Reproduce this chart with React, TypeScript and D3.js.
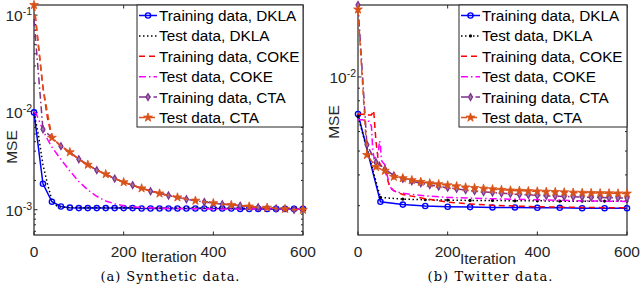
import React, { useEffect, useRef } from "react";
import * as d3 from "d3";

// iteration grids
const iter20 = [0, 20, 40, 60, 80, 100, 120, 140, 160, 180, 200, 220, 240, 260, 280, 300, 320, 340, 360, 380, 400, 420, 440, 460, 480, 500, 520, 540, 560, 580, 600];
const iter50 = [0, 50, 100, 150, 200, 250, 300, 350, 400, 450, 500, 550, 600];

// (a) synthetic data
const synTrainDKLA = [0.01, 0.00185, 0.00121, 0.00108, 0.00105, 0.00104, 0.00104, 0.00104, 0.00104, 0.00104, 0.00104, 0.00104, 0.00103, 0.00103, 0.00103, 0.00103, 0.00103, 0.00103, 0.00103, 0.00103, 0.00103, 0.00103, 0.00103, 0.00102, 0.00102, 0.00102, 0.00102, 0.00102, 0.00102, 0.00102, 0.00102];
const synTestDKLAIter = [0, 10, 20, 30, 40, 50, 60, 100, 200, 300, 400, 500, 600];
const synTestDKLA = [0.01, 0.0058, 0.0029, 0.00185, 0.00125, 0.0011, 0.00106, 0.00105, 0.00105, 0.00104, 0.00104, 0.00103, 0.00103];
const synCOKEIter = [0, 5, 10, 15, 20, 30, 40, 50, 60, 80, 100, 120, 140, 160, 180, 200, 240, 300, 400, 500, 600];
const synTrainCOKE = [0.127, 0.08, 0.048, 0.029, 0.018, 0.0088, 0.0055, 0.005, 0.0045, 0.0039, 0.0033, 0.0029, 0.00255, 0.00232, 0.00209, 0.00192, 0.00166, 0.0014, 0.00117, 0.00106, 0.001];
const synTestCOKE = [0.01, 0.0097, 0.0085, 0.0075, 0.0066, 0.0053, 0.0044, 0.0038, 0.0033, 0.0025, 0.00195, 0.0016, 0.00137, 0.00123, 0.00115, 0.0011, 0.00105, 0.00103, 0.00102, 0.00102, 0.00101];
const synTrainCTA = [0.09, 0.0067, 0.0055, 0.0045, 0.0039, 0.0033, 0.0029, 0.00255, 0.00232, 0.00209, 0.00192, 0.00179, 0.00166, 0.00155, 0.00147, 0.0014, 0.00134, 0.00128, 0.00124, 0.0012, 0.00117, 0.00114, 0.00112, 0.0011, 0.00108, 0.00106, 0.00105, 0.00103, 0.00102, 0.001, 0.001];
const synTestCTA = [0.127, 0.018, 0.0055, 0.0045, 0.0039, 0.0033, 0.0029, 0.00255, 0.00232, 0.00209, 0.00192, 0.00179, 0.00166, 0.00155, 0.00147, 0.0014, 0.00134, 0.00128, 0.00124, 0.0012, 0.00117, 0.00114, 0.00112, 0.0011, 0.00108, 0.00106, 0.00105, 0.00103, 0.00102, 0.001, 0.001];

// (b) twitter data
const twTrainDKLA = [0.00707, 0.00311, 0.00303, 0.00299, 0.00297, 0.00296, 0.00295, 0.00295, 0.00294, 0.00294, 0.00293, 0.00293, 0.00293];
const twTestDKLA = [0.0069, 0.00324, 0.00319, 0.00317, 0.00316, 0.00315, 0.00315, 0.00314, 0.00314, 0.00313, 0.00313, 0.00313, 0.00313];
const twTrainCOKEIter = [0, 10, 20, 30, 35, 40, 45, 50, 55, 60, 70, 80, 90, 100, 120, 150, 200, 250, 300, 350, 400, 500, 600];
const twTrainCOKE = [0.00705, 0.00705, 0.007, 0.007, 0.0073, 0.0055, 0.0046, 0.0044, 0.0043, 0.0042, 0.0036, 0.00345, 0.00338, 0.00333, 0.00328, 0.0032, 0.0031, 0.00305, 0.00301, 0.00299, 0.00297, 0.00295, 0.00294];
const twTestCOKEIter = [0, 10, 20, 25, 30, 33, 36, 40, 45, 48, 50, 52, 55, 60, 65, 70, 75, 80, 90, 100, 120, 150, 200, 300, 400, 500, 600];
const twTestCOKE = [0.0067, 0.0067, 0.0066, 0.0066, 0.0063, 0.005, 0.0047, 0.0047, 0.0049, 0.0055, 0.0053, 0.0046, 0.0045, 0.0044, 0.004, 0.00365, 0.0035, 0.00345, 0.0034, 0.00337, 0.00333, 0.00329, 0.00324, 0.0032, 0.00317, 0.00314, 0.00312];
const twTrainCTA = [0.0196, 0.0053, 0.0045, 0.00422, 0.00398, 0.00386, 0.00377, 0.0037, 0.00364, 0.00359, 0.00355, 0.00351, 0.00347, 0.00344, 0.00341, 0.00339, 0.00337, 0.00335, 0.00333, 0.00332, 0.0033, 0.00329, 0.00328, 0.00327, 0.00326, 0.00325, 0.00324, 0.003235, 0.00323, 0.003225, 0.00322];
const twTestCTA = [0.0188, 0.00482, 0.00431, 0.00416, 0.00393, 0.00388, 0.00381, 0.00375, 0.0037, 0.00367, 0.00363, 0.0036, 0.00356, 0.00354, 0.00352, 0.0035, 0.00348, 0.00346, 0.00345, 0.00344, 0.00343, 0.00342, 0.00341, 0.0034, 0.00339, 0.003385, 0.00338, 0.003375, 0.00337, 0.003365, 0.00336];

const labels = ["Training data, DKLA", "Test data, DKLA", "Training data, COKE", "Test data, COKE", "Training data, CTA", "Test data, CTA"];
const xTicks = [0, 200, 400, 600];

const AX = "#262626";
const FONT = "'Liberation Sans', Arial, sans-serif";
const DASHED = "6,4";
const DOTTED = "1.5,2.5";
const DASHDOT = "7,3,1.5,3";

const makeSeries = (data) => [
  { iter: data[0][0], values: data[0][1], color: "#0000ff", dash: null, marker: "circle", start: 0, step: 1 },
  { iter: data[1][0], values: data[1][1], color: "#000000", dash: DOTTED, marker: data[1][2], start: 0, step: 1 },
  { iter: data[2][0], values: data[2][1], color: "#ff0000", dash: DASHED, marker: null, start: 0, step: 1 },
  { iter: data[3][0], values: data[3][1], color: "#ff00ff", dash: DASHDOT, marker: null, start: 0, step: 1 },
  { iter: data[4][0], values: data[4][1], color: "#7e2f8e", dash: DASHDOT, marker: "diamond", start: data[4][2], step: data[4][3] },
  { iter: data[5][0], values: data[5][1], color: "#d95319", dash: DASHED, marker: "star", start: 0, step: data[5][3] },
];

const panels = [
  {
    left: 34, right: 303, top: 5, bottom: 235,
    yDomain: [5.5e-4, 0.127], decades: [-1, -2, -3],
    series: makeSeries([
      [iter20, synTrainDKLA],
      [synTestDKLAIter, synTestDKLA, null],
      [synCOKEIter, synTrainCOKE],
      [synCOKEIter, synTestCOKE],
      [iter20, synTrainCTA, 1, 2],
      [iter20, synTestCTA, 0, 2],
    ]),
    legendX: 137, textX: 159, mse: [12, 147], iterLabel: [169, 262],
    caption: "(a) Synthetic data.", capX: 170, capW: 139,
  },
  {
    left: 358, right: 627, top: 5, bottom: 235,
    yDomain: [2.28e-3, 0.0196], decades: [-2],
    series: makeSeries([
      [iter50, twTrainDKLA],
      [iter50, twTestDKLA, "dot"],
      [twTrainCOKEIter, twTrainCOKE],
      [twTestCOKEIter, twTestCOKE],
      [iter20, twTrainCTA, 0, 1],
      [iter20, twTestCTA, 0, 1],
    ]),
    legendX: 459, textX: 482, mse: [334, 122], iterLabel: [488, 264],
    caption: "(b) Twitter data.", capX: 490, capW: 125,
  },
];

const drawMarker = (g, kind, cx, cy, color) => {
  if (kind === "circle") {
    g.append("circle").attr("cx", cx).attr("cy", cy).attr("r", 2.6)
      .attr("fill", "none").attr("stroke", color).attr("stroke-width", 1.4);
  } else if (kind === "dot") {
    g.append("circle").attr("cx", cx).attr("cy", cy).attr("r", 1.6).attr("fill", color);
  } else if (kind === "diamond") {
    g.append("path").attr("d", d3.symbol(d3.symbolDiamond, 14)())
      .attr("transform", `translate(${cx},${cy})`)
      .attr("fill", "#a07aaa").attr("stroke", color).attr("stroke-width", 1.2);
  } else if (kind === "star") {
    g.append("path").attr("d", d3.symbol(d3.symbolStar, 24)())
      .attr("transform", `translate(${cx},${cy})`)
      .attr("fill", color).attr("stroke", color).attr("stroke-width", 0.8);
  }
};

const drawPanel = (svg, p) => {
  const g = svg.append("g");
  const x = d3.scaleLinear().domain([0, 600]).range([p.left, p.right]);
  const y = d3.scaleLog().domain(p.yDomain).range([p.bottom, p.top]);

  // axes box
  g.append("rect").attr("x", p.left).attr("y", p.top)
    .attr("width", p.right - p.left).attr("height", p.bottom - p.top)
    .attr("fill", "white").attr("stroke", AX).attr("stroke-width", 1.2);

  // x ticks, bottom and top
  xTicks.forEach((t) => {
    g.append("line").attr("x1", x(t)).attr("x2", x(t)).attr("y1", p.bottom).attr("y2", p.bottom - 3.5).attr("stroke", AX);
    g.append("line").attr("x1", x(t)).attr("x2", x(t)).attr("y1", p.top).attr("y2", p.top + 3.5).attr("stroke", AX);
    g.append("text").attr("x", x(t)).attr("y", 257).attr("text-anchor", "middle")
      .attr("font-family", FONT).attr("font-size", 15.5).attr("fill", AX).text(t);
  });

  // y ticks, log decades with minor ticks
  const [lo, hi] = p.yDomain;
  for (let k = Math.floor(Math.log10(lo)); k <= Math.ceil(Math.log10(hi)); k++) {
    for (let m = 1; m <= 9; m++) {
      const v = m * Math.pow(10, k);
      if (v < lo || v > hi) continue;
      const len = m === 1 ? 3.5 : 2;
      g.append("line").attr("x1", p.left).attr("x2", p.left + len).attr("y1", y(v)).attr("y2", y(v)).attr("stroke", AX);
      g.append("line").attr("x1", p.right).attr("x2", p.right - len).attr("y1", y(v)).attr("y2", y(v)).attr("stroke", AX);
    }
  }
  p.decades.forEach((k) => {
    const t = g.append("text").attr("x", p.left - 2).attr("y", y(Math.pow(10, k)) + 6)
      .attr("text-anchor", "end").attr("font-family", FONT).attr("fill", AX);
    t.append("tspan").attr("font-size", 15.5).text("10");
    t.append("tspan").attr("font-size", 10.5).attr("dy", -6).text(String(k));
  });

  // axis labels
  g.append("text").attr("transform", `translate(${p.mse[0] + 5},${p.mse[1]}) rotate(-90)`)
    .attr("text-anchor", "middle").attr("font-family", FONT).attr("font-size", 15.5).attr("fill", AX).text("MSE");
  g.append("text").attr("x", p.iterLabel[0]).attr("y", p.iterLabel[1]).attr("text-anchor", "middle")
    .attr("font-family", FONT).attr("font-size", 15.5).attr("fill", AX).text("Iteration");

  // series
  p.series.forEach((s) => {
    const pts = s.iter.map((it, i) => [it, s.values[i]]);
    const line = d3.line().x((d) => x(d[0])).y((d) => y(d[1]));
    g.append("path").attr("d", line(pts)).attr("fill", "none")
      .attr("stroke", s.color).attr("stroke-width", 1.5)
      .attr("stroke-dasharray", s.dash || null);
    if (s.marker) {
      pts.forEach((d, i) => {
        if (i < s.start || (i - s.start) % s.step !== 0) return;
        drawMarker(g, s.marker, x(d[0]), y(d[1]), s.color);
      });
    }
  });

  // legend
  const lg = g.append("g");
  lg.append("rect").attr("x", p.legendX).attr("y", p.top).attr("width", p.right - p.legendX).attr("height", 122)
    .attr("fill", "white").attr("stroke", AX).attr("stroke-width", 1);
  p.series.forEach((s, i) => {
    const cy = p.top + 10.5 + i * 20.4;
    const x1 = p.legendX + 2, x2 = p.textX - 2;
    lg.append("line").attr("x1", x1).attr("x2", x2).attr("y1", cy).attr("y2", cy)
      .attr("stroke", s.color).attr("stroke-width", 1.5).attr("stroke-dasharray", s.dash || null);
    if (s.marker) drawMarker(lg, s.marker, (x1 + x2) / 2, cy, s.color);
    lg.append("text").attr("x", p.textX).attr("y", cy + 5.5).attr("font-family", FONT)
      .attr("font-size", 15.3).attr("fill", "#000").text(labels[i]);
  });

  // caption
  g.append("text").attr("x", p.capX).attr("y", 281).attr("text-anchor", "middle")
    .attr("font-family", "'DejaVu Serif', serif").attr("font-size", 13)
    .attr("textLength", p.capW).attr("lengthAdjust", "spacing")
    .attr("fill", "#000").text(p.caption);
};

const App = () => {
  const svgRef = useRef(null);

  useEffect(() => {
    const svg = d3.select(svgRef.current);
    svg.selectAll("*").remove();
    panels.forEach((p) => drawPanel(svg, p));
  }, []);

  return (
    <div style={{ position: "absolute", left: 0, top: 0 }}>
      <svg ref={svgRef} width={640} height={292} style={{ display: "block", background: "white" }} />
    </div>
  );
};

export default App;
